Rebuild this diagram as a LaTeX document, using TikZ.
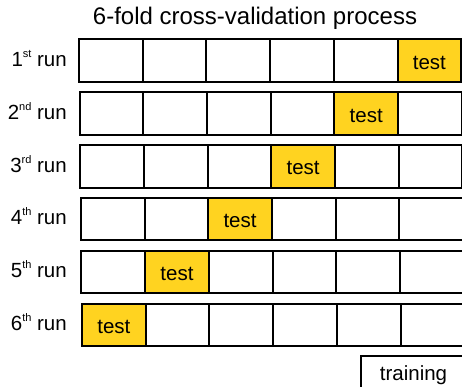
\documentclass[tikz,border=0pt]{standalone}
\usepackage{fontspec}
\setmainfont{Liberation Sans}
\definecolor{testyellow}{HTML}{FFD320}
\newcommand{\lblfont}{\fontsize{20.5}{24}\selectfont}
\newcommand{\supr}[1]{\raisebox{9pt}{\fontsize{11}{12}\selectfont #1}}
\begin{document}
\begin{tikzpicture}[x=1pt,y=-1pt,
  cell/.style={draw=black,line width=2pt,minimum width=63.7pt,minimum height=42.5pt,inner sep=0pt,anchor=north west},
  testcell/.style={cell,fill=testyellow},
  lbl/.style={font=\lblfont,inner sep=0pt},
  titlefont/.style={font=\fontsize{24}{28}\selectfont,inner sep=0pt}]
\useasboundingbox[fill=white] (0,0) rectangle (462,387);
\node[titlefont,anchor=base] (title) at (255,25) {6-fold cross-validation process};
\foreach \r/\sup in {1/st,2/nd,3/rd,4/th,5/th,6/th}{
  \pgfmathsetmacro{\lx}{78+(\r-1)*0.6}
  \pgfmathsetmacro{\ty}{38.5+(\r-1)*52.8}
  \pgfmathtruncatemacro{\tc}{7-\r}
  \node[testcell] (r\r c\tc) at ({\lx+(\tc-1)*63.7},\ty) {};
  \node[lbl,anchor=base] (t\r) at ([yshift=-8.5pt]r\r c\tc.center) {test};
  \foreach \c in {1,...,6}{
    \ifnum\c=\tc\else
      \node[cell] (r\r c\c) at ({\lx+(\c-1)*63.7},\ty) {};
    \fi
  }
  \node[lbl,anchor=base east] (l\r) at (67,{\ty+28}) {\r\supr{\sup} run};
}
\node[draw=black,line width=2pt,minimum width=105pt,minimum height=36pt,inner sep=0pt] (train) at (413.5,373.5) {};
\node[lbl,anchor=base] (traintxt) at (413.5,380) {training};
\end{tikzpicture}
\end{document}
